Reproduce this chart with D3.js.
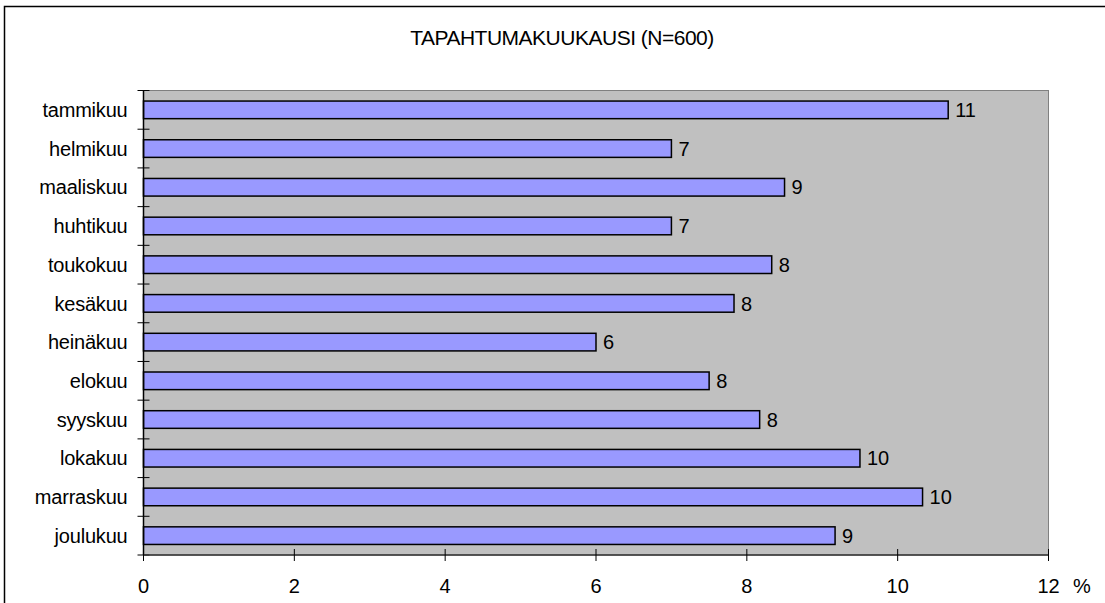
<!DOCTYPE html>
<html lang="fi">
<head>
<meta charset="UTF-8">
<title>Tapahtumakuukausi</title>
<script src="https://d3js.org/d3.v7.min.js"></script>
<style>
    body { margin: 0; background: #fff; }
    svg text { font-family: "Liberation Sans", Arial, sans-serif; fill: #000; }
</style>
</head>
<body>
<svg width="1105" height="603"></svg>
<script>
    const months = ["tammikuu", "helmikuu", "maaliskuu", "huhtikuu", "toukokuu", "kesäkuu",
        "heinäkuu", "elokuu", "syyskuu", "lokakuu", "marraskuu", "joulukuu"];
    const percents = [10.67, 7.0, 8.5, 7.0, 8.33, 7.83, 6.0, 7.5, 8.17, 9.5, 10.33, 9.17];
    const labels = ["11", "7", "9", "7", "8", "8", "6", "8", "8", "10", "10", "9"];
    const xTicks = [0, 2, 4, 6, 8, 10, 12];
    const title = "TAPAHTUMAKUUKAUSI (N=600)";

    const svg = d3.select("svg");
    const plotLeft = 143.5, plotRight = 1048.5, plotTop = 90.5, plotBottom = 555;

    // outer frame (runs off the right and bottom edge)
    svg.append("rect")
        .attr("x", 4.5).attr("y", 6.5)
        .attr("width", 1110).attr("height", 610)
        .attr("fill", "none").attr("stroke", "#000").attr("stroke-width", 1.5);

    svg.append("text")
        .attr("x", 562).attr("y", 45)
        .attr("text-anchor", "middle")
        .attr("font-size", 21)
        .attr("letter-spacing", -0.5)
        .text(title);

    const x = d3.scaleLinear().domain([0, 12]).range([plotLeft, plotRight]);
    const y = d3.scaleBand().domain(months).range([plotTop, plotBottom])
        .paddingInner(0.545).paddingOuter(0.2725);
    const step = y.step();

    // plot area
    svg.append("rect")
        .attr("x", plotLeft).attr("y", plotTop)
        .attr("width", plotRight - plotLeft).attr("height", plotBottom - plotTop)
        .attr("fill", "#c0c0c0").attr("stroke", "#808080").attr("stroke-width", 1);

    svg.append("g").selectAll("rect")
        .data(months)
        .join("rect")
        .attr("x", x(0))
        .attr("y", d => y(d))
        .attr("width", (d, i) => x(percents[i]) - x(0))
        .attr("height", y.bandwidth())
        .attr("fill", "#9999ff")
        .attr("stroke", "#000")
        .attr("stroke-width", 1.5);

    svg.append("g").selectAll("text")
        .data(months)
        .join("text")
        .attr("x", (d, i) => x(percents[i]) + 7)
        .attr("y", d => y(d) + y.bandwidth() / 2)
        .attr("dy", "0.36em")
        .attr("font-size", 20)
        .text((d, i) => labels[i]);

    // y axis
    const yAxis = svg.append("g");
    yAxis.append("line")
        .attr("x1", plotLeft).attr("x2", plotLeft).attr("y1", plotTop).attr("y2", plotBottom)
        .attr("stroke", "#000").attr("stroke-width", 1.5);
    yAxis.selectAll(".tk")
        .data(d3.range(months.length + 1))
        .join("line")
        .attr("x1", plotLeft - 6).attr("x2", plotLeft + 6)
        .attr("y1", i => plotTop + i * step).attr("y2", i => plotTop + i * step)
        .attr("stroke", "#000").attr("stroke-width", 1);
    yAxis.selectAll("text")
        .data(months)
        .join("text")
        .attr("x", plotLeft - 16)
        .attr("y", d => y(d) + y.bandwidth() / 2)
        .attr("dy", "0.36em")
        .attr("text-anchor", "end")
        .attr("font-size", 20)
        .attr("letter-spacing", -0.2)
        .text(d => d);

    // x axis
    const xAxis = svg.append("g");
    xAxis.append("line")
        .attr("x1", plotLeft).attr("x2", plotRight).attr("y1", plotBottom).attr("y2", plotBottom)
        .attr("stroke", "#333").attr("stroke-width", 1.5);
    xAxis.selectAll(".tk")
        .data(xTicks)
        .join("line")
        .attr("x1", d => x(d)).attr("x2", d => x(d))
        .attr("y1", plotBottom - 6).attr("y2", plotBottom + 6)
        .attr("stroke", "#000").attr("stroke-width", 1);
    xAxis.selectAll("text")
        .data(xTicks)
        .join("text")
        .attr("x", d => x(d))
        .attr("y", 593)
        .attr("text-anchor", "middle")
        .attr("font-size", 20)
        .text(d => d);
    xAxis.append("text")
        .attr("x", 1082).attr("y", 593)
        .attr("text-anchor", "middle")
        .attr("font-size", 20)
        .text("%");
</script>
</body>
</html>
